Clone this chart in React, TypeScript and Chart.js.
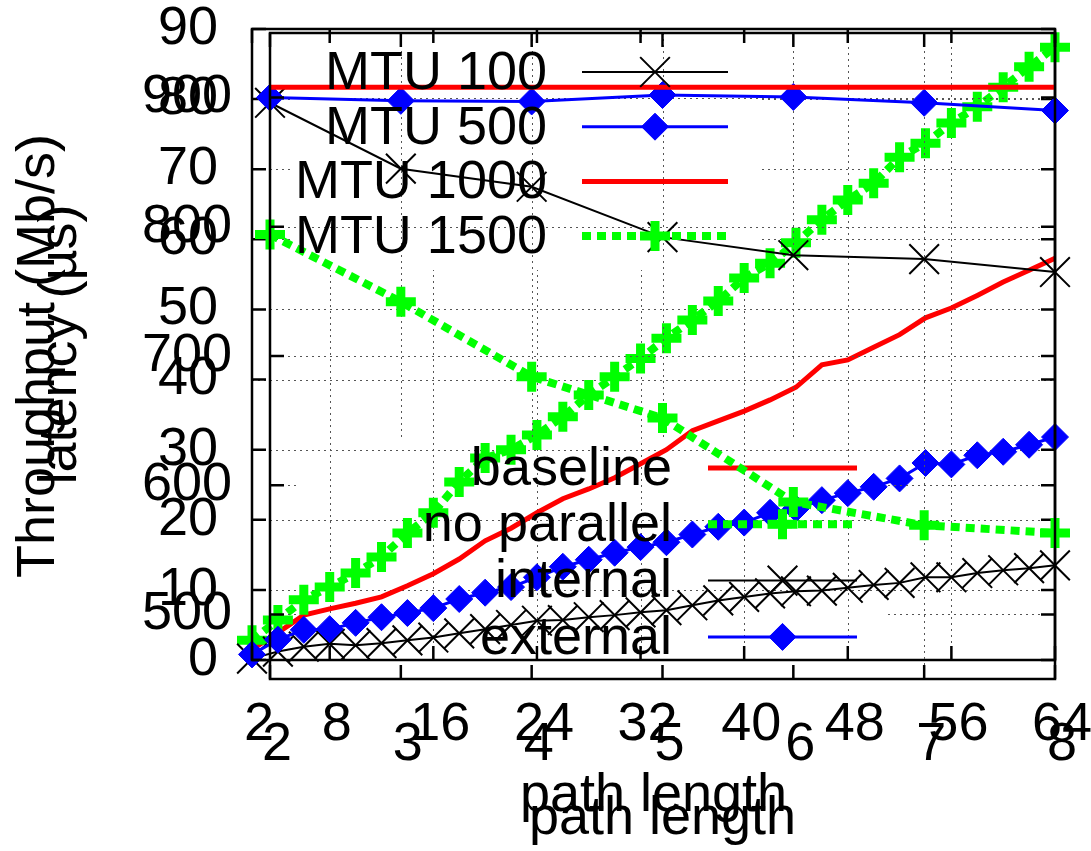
import React, { useEffect, useRef } from 'react';
import { Chart, registerables } from 'chart.js';

Chart.register(...registerables);

const FONT_FAMILY = '"Liberation Sans", Arial, Helvetica, sans-serif';
const FS = 54;

// ---- latency vs path length (2..64) ----
const pathLengths = [2, 4, 6, 8, 10, 12, 14, 16, 18, 20, 22, 24, 26, 28, 30, 32, 34, 36, 38, 40, 42, 44, 46, 48, 50, 52, 54, 56, 58, 60, 62, 64];
const baseline = [1.5, 3.9, 6.4, 7.3, 8.1, 9.0, 10.6, 12.3, 14.4, 17.0, 18.8, 21.0, 23.0, 24.4, 26.0, 28.0, 30.0, 32.7, 34.1, 35.5, 37.1, 38.9, 42.1, 42.8, 44.6, 46.4, 48.8, 50.2, 52.0, 53.9, 55.6, 57.3];
const noParallel = [2.8, 5.7, 8.6, 10.4, 12.4, 14.7, 18.1, 21.0, 25.4, 28.8, 30.0, 32.1, 34.7, 37.8, 40.4, 43.0, 45.9, 48.5, 51.2, 54.5, 56.6, 59.5, 62.8, 65.6, 68.0, 71.7, 73.7, 76.6, 78.9, 81.7, 84.6, 87.4];
const internal = [0.2, 1.2, 1.9, 2.3, 2.1, 2.4, 2.8, 3.2, 3.8, 4.4, 5.0, 5.6, 5.7, 6.1, 6.4, 6.8, 7.1, 7.8, 8.5, 9.0, 9.5, 9.8, 9.9, 10.3, 10.7, 11.0, 11.8, 11.8, 12.4, 12.8, 13.1, 13.5];
const external = [0.8, 2.9, 4.3, 4.4, 5.3, 6.1, 6.7, 7.4, 8.7, 9.6, 10.4, 11.8, 13.3, 14.3, 15.3, 16.1, 16.8, 17.9, 19.0, 19.6, 21.0, 21.6, 22.8, 23.8, 24.7, 25.9, 28.1, 27.9, 29.2, 29.7, 30.7, 31.8];
const latencyXTicks = [2, 8, 16, 24, 32, 40, 48, 56, 64];
const latencyYTicks = [0, 10, 20, 30, 40, 50, 60, 70, 80, 90];

// ---- throughput vs path length (2..8) ----
const mtuPathLengths = [2, 3, 4, 5, 6, 7, 8];
const mtu100 = [896, 845, 831, 792, 778, 775, 765];
const mtu500 = [900, 897.5, 897, 902, 900.5, 896, 890];
const mtu1000 = [908, 908, 908, 908, 908, 908, 908];
const mtu1500 = [794, 742, 684, 652, 587, 569, 563];
const mtuXTicks = [2, 3, 4, 5, 6, 7, 8];
const throughputYTicks = [500, 600, 700, 800, 900];

const font = { family: FONT_FAMILY, size: FS, lineHeight: 1 };

function drawMarker(ctx: CanvasRenderingContext2D, style: string, x: number, y: number, r: number, color: string, lw: number) {
  ctx.save();
  ctx.setLineDash([]);
  ctx.strokeStyle = color;
  ctx.fillStyle = color;
  ctx.lineWidth = lw;
  ctx.beginPath();
  if (style === 'crossRot') {
    const d = r * Math.SQRT1_2;
    ctx.moveTo(x - d, y - d); ctx.lineTo(x + d, y + d);
    ctx.moveTo(x + d, y - d); ctx.lineTo(x - d, y + d);
    ctx.stroke();
  } else if (style === 'cross') {
    ctx.moveTo(x - r, y); ctx.lineTo(x + r, y);
    ctx.moveTo(x, y - r); ctx.lineTo(x, y + r);
    ctx.stroke();
  } else if (style === 'rectRot') {
    ctx.moveTo(x - r, y); ctx.lineTo(x, y - r); ctx.lineTo(x + r, y); ctx.lineTo(x, y + r);
    ctx.closePath();
    ctx.fill();
    ctx.stroke();
  }
  ctx.restore();
}

const gnuFrame = {
  id: 'gnuFrame',
  beforeDatasetsDraw(chart: any, _args: any, opts: any) {
    const { ctx, chartArea: a } = chart;
    const xs = chart.scales.x;
    const ys = chart.scales.y;
    ctx.save();
    ctx.beginPath();
    ctx.rect(a.left, a.top, a.right - a.left, a.bottom - a.top);
    (opts.holes || []).forEach((h: any) => ctx.rect(h.x, h.y, h.w, h.h));
    ctx.clip('evenodd');
    ctx.strokeStyle = '#555';
    ctx.lineWidth = 1;
    ctx.setLineDash([2, 4]);
    ctx.beginPath();
    xs.ticks.forEach((t: any) => {
      const px = Math.round(xs.getPixelForValue(t.value)) + 0.5;
      if (px > a.left + 3 && px < a.right - 3) {
        ctx.moveTo(px, a.top);
        ctx.lineTo(px, a.bottom);
      }
    });
    ys.ticks.forEach((t: any) => {
      const py = Math.round(ys.getPixelForValue(t.value)) + 0.5;
      if (py > a.top + 3 && py < a.bottom - 3) {
        ctx.moveTo(a.left, py);
        ctx.lineTo(a.right, py);
      }
    });
    ctx.stroke();
    ctx.restore();
  },
  afterDatasetsDraw(chart: any, _args: any, opts: any) {
    const { ctx, chartArea: a } = chart;
    const xs = chart.scales.x;
    const ys = chart.scales.y;
    const tl = 14;
    ctx.save();
    ctx.setLineDash([]);
    ctx.strokeStyle = '#000';
    ctx.lineWidth = 2.5;
    ctx.beginPath();
    xs.ticks.forEach((t: any) => {
      const px = xs.getPixelForValue(t.value);
      ctx.moveTo(px, a.bottom); ctx.lineTo(px, a.bottom - tl);
      ctx.moveTo(px, a.top); ctx.lineTo(px, a.top + tl);
    });
    ys.ticks.forEach((t: any) => {
      const py = ys.getPixelForValue(t.value);
      ctx.moveTo(a.left, py); ctx.lineTo(a.left + tl, py);
      ctx.moveTo(a.right, py); ctx.lineTo(a.right - tl, py);
    });
    ctx.stroke();
    ctx.strokeRect(a.left, a.top, a.right - a.left, a.bottom - a.top);

    // key
    const L = opts.legend;
    ctx.font = `${FS}px ${FONT_FAMILY}`;
    ctx.textAlign = 'right';
    ctx.textBaseline = 'middle';
    chart.data.datasets.forEach((ds: any, i: number) => {
      const y = L.y0 + i * L.dy;
      ctx.fillStyle = '#000';
      ctx.fillText(ds.label, L.textRight, y + 2);
      ctx.save();
      ctx.strokeStyle = ds.borderColor;
      ctx.lineWidth = ds.borderWidth;
      ctx.setLineDash(ds.borderDash || []);
      ctx.beginPath();
      ctx.moveTo(L.x0, y);
      ctx.lineTo(L.x1, y);
      ctx.stroke();
      ctx.restore();
      if (ds.pointRadius > 0) {
        drawMarker(ctx, ds.pointStyle, (L.x0 + L.x1) / 2, y, ds.pointRadius, ds.borderColor, ds.pointBorderWidth);
      }
    });
    ctx.restore();
  },
};

function lineDs(label: string, xs: number[], ys: number[], style: any) {
  return {
    label,
    data: xs.map((x, i) => ({ x, y: ys[i] })),
    tension: 0,
    clip: false,
    ...style,
  };
}

const blackX = { borderColor: '#000000', borderWidth: 2, pointStyle: 'crossRot', pointRadius: 21, pointBorderWidth: 2, pointBorderColor: '#000000', pointBackgroundColor: '#000000' };
const blueDiamond = { borderColor: '#0000ff', borderWidth: 3, pointStyle: 'rectRot', pointRadius: 13.5, pointBorderWidth: 1, pointBorderColor: '#0000ff', pointBackgroundColor: '#0000ff' };
const redLine = { borderColor: '#ff0000', borderWidth: 5, pointRadius: 0, pointStyle: 'circle', pointBorderWidth: 0 };
const greenPlus = { borderColor: '#00ff00', borderWidth: 8, borderDash: [9, 6], pointStyle: 'cross', pointRadius: 15, pointBorderWidth: 9, pointBorderColor: '#00ff00', pointBackgroundColor: '#00ff00' };

function zeroPad(s: any) {
  s.paddingTop = 0;
  s.paddingBottom = 0;
  s.paddingLeft = 0;
  s.paddingRight = 0;
}

function makeOptions(p: any) {
  return {
    responsive: false,
    maintainAspectRatio: false,
    animation: false,
    devicePixelRatio: 1,
    events: [],
    layout: { padding: { top: p.top, right: 1091 - p.right, left: 0, bottom: 0 } },
    scales: {
      x: {
        type: 'linear',
        min: p.xmin,
        max: p.xmax,
        afterBuildTicks: (s: any) => { s.ticks = p.xticks.map((v: number) => ({ value: v })); },
        afterFit: (s: any) => { s.height = 851 - p.bottom; zeroPad(s); },
        grid: { display: false },
        border: { display: false },
        ticks: { font, color: '#000', padding: p.xTickPad, labelOffset: 7, maxRotation: 0, minRotation: 0, autoSkip: false, callback: (v: any) => String(v) },
        title: { display: true, text: 'path length', font, color: '#000', padding: { top: 0, bottom: p.xTitlePad } },
      },
      y: {
        type: 'linear',
        min: p.ymin,
        max: p.ymax,
        afterBuildTicks: (s: any) => { s.ticks = p.yticks.map((v: number) => ({ value: v })); },
        afterFit: (s: any) => { s.width = p.left; zeroPad(s); },
        grid: { display: false },
        border: { display: false },
        ticks: { font, color: '#000', padding: p.yTickPad, autoSkip: false, callback: (v: any) => String(v) },
        title: { display: true, text: p.yTitle, font, color: '#000', padding: { top: p.yTitlePad, bottom: 0 } },
      },
    },
    plugins: {
      legend: { display: false },
      tooltip: { enabled: false },
      gnuFrame: { holes: p.holes, legend: p.legend },
    },
  };
}

function latencyConfig(): any {
  return {
    type: 'line',
    data: {
      datasets: [
        { ...lineDs('baseline', pathLengths, baseline, redLine), order: 4 },
        { ...lineDs('no parallel', pathLengths, noParallel, greenPlus), order: 3 },
        { ...lineDs('internal', pathLengths, internal, blackX), order: 2 },
        { ...lineDs('external', pathLengths, external, blueDiamond), order: 1 },
      ],
    },
    options: makeOptions({
      left: 252, right: 1055, top: 29, bottom: 660,
      xmin: 2, xmax: 64, ymin: 0, ymax: 90,
      xticks: latencyXTicks, yticks: latencyYTicks,
      xTickPad: 30, yTickPad: 26, xTitlePad: 28, yTitlePad: 34,
      yTitle: 'latency (µs)',
      holes: [{ x: 293, y: 40, w: 465, h: 230 }],
      legend: { textRight: 672, x0: 708, x1: 857, y0: 468, dy: 56.3 },
    }),
    plugins: [gnuFrame],
  };
}

function throughputConfig(): any {
  return {
    type: 'line',
    data: {
      datasets: [
        { ...lineDs('MTU 100', mtuPathLengths, mtu100, blackX), order: 4 },
        { ...lineDs('MTU 500', mtuPathLengths, mtu500, blueDiamond), order: 3 },
        { ...lineDs('MTU 1000', mtuPathLengths, mtu1000, redLine), order: 2 },
        { ...lineDs('MTU 1500', mtuPathLengths, mtu1500, greenPlus), order: 1 },
      ],
    },
    options: makeOptions({
      left: 270, right: 1055, top: 33, bottom: 679,
      xmin: 2, xmax: 8, ymin: 450, ymax: 950,
      xticks: mtuXTicks, yticks: throughputYTicks,
      xTickPad: 31, yTickPad: 30, xTitlePad: 5, yTitlePad: 12,
      yTitle: 'Throughput (Mb/s)',
      holes: [{ x: 300, y: 440, w: 585, h: 240 }],
      legend: { textRight: 547, x0: 582, x1: 728, y0: 72, dy: 54.7 },
    }),
    plugins: [gnuFrame],
  };
}

export default function App() {
  const r1 = useRef<HTMLCanvasElement>(null);
  const r2 = useRef<HTMLCanvasElement>(null);
  useEffect(() => {
    const c1 = new Chart(r1.current as HTMLCanvasElement, latencyConfig());
    const c2 = new Chart(r2.current as HTMLCanvasElement, throughputConfig());
    return () => {
      c1.destroy();
      c2.destroy();
    };
  }, []);
  return (
    <div style={{ position: 'absolute', left: 0, top: 0, width: 1091, height: 851, background: '#ffffff' }}>
      <canvas ref={r1} width={1091} height={851} style={{ position: 'absolute', left: 0, top: 0 }} />
      <canvas ref={r2} width={1091} height={851} style={{ position: 'absolute', left: 0, top: 0 }} />
    </div>
  );
}
